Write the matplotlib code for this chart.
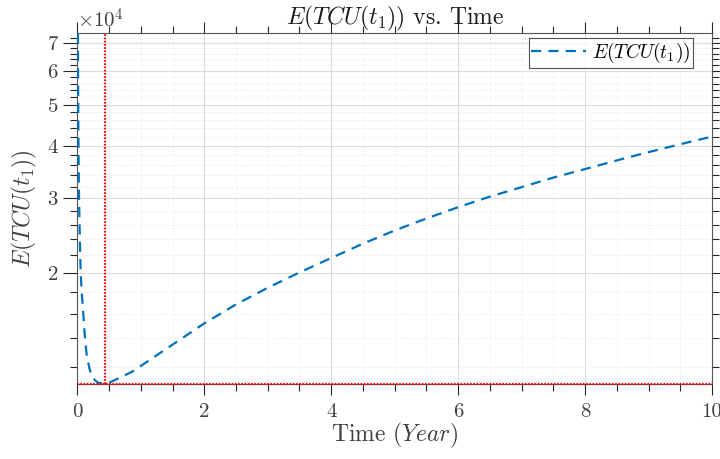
import matplotlib
matplotlib.use("Agg")
import matplotlib.pyplot as plt
from matplotlib.ticker import FixedLocator, FixedFormatter, MultipleLocator, NullFormatter

# ---- data ----
time_years = [0.005, 0.008, 0.012, 0.018, 0.027, 0.04, 0.053, 0.069, 0.094, 0.121,
              0.148, 0.19, 0.227, 0.28, 0.33, 0.38, 0.436, 0.5, 0.57, 0.72, 0.87,
              1.0, 1.145, 1.42, 1.71, 2.0, 2.5, 3.0, 3.5, 4.0, 4.5, 5.0, 5.5,
              6.0, 6.5, 7.0, 7.5, 8.0, 8.5, 9.0, 9.5, 10.0]
etcu_values = [1.2e5, 7.8e4, 5.6e4, 4.0e4, 3.0e4, 2.39e4, 2.0e4, 1.8e4, 1.6e4, 1.4e4,
               1.28e4, 1.19e4, 1.14e4, 1.115e4, 1.10e4, 1.097e4, 1.095e4, 1.10e4,
               1.113e4, 1.14e4, 1.17e4, 1.205e4, 1.247e4, 1.329e4, 1.421e4, 1.52e4,
               1.685e4, 1.845e4, 2.005e4, 2.17e4, 2.345e4, 2.52e4, 2.69e4,
               2.86e4, 3.03e4, 3.19e4, 3.36e4, 3.52e4, 3.69e4, 3.86e4, 4.03e4, 4.2e4]
t_opt = 0.437
etcu_min = 1.095e4
y_major = [2e4, 3e4, 4e4, 5e4, 6e4, 7e4]
y_major_labels = ["2", "3", "4", "5", "6", "7"]
y_minor = [1.2e4, 1.4e4, 1.6e4, 1.8e4, 2.2e4, 2.4e4, 2.6e4, 2.8e4, 3.2e4, 3.4e4,
           3.6e4, 3.8e4, 4.2e4, 4.4e4, 4.6e4, 4.8e4, 5.2e4, 5.4e4, 5.6e4, 5.8e4,
           6.2e4, 6.4e4, 6.6e4, 6.8e4, 7.2e4]
x_major = [0, 2, 4, 6, 8, 10]

plt.rcParams['font.family'] = ['cmr10', 'DejaVu Serif']
plt.rcParams['mathtext.fontset'] = 'cm'
plt.rcParams['axes.unicode_minus'] = False

txt = '#262626'
fig = plt.figure(figsize=(7.2, 4.59), dpi=100)
ax = fig.add_axes([0.1074, 0.1634, 0.8815, 0.7641])

ax.plot(time_years, etcu_values, color='#0072BD', lw=1.6, dashes=(4.6, 3.2),
        label=r'$E(TCU(t_1))$', zorder=3)
ax.axvline(t_opt, color='red', lw=1.6, dashes=(0.75, 0.7), zorder=4)
ax.axhline(etcu_min, color='red', lw=1.6, dashes=(0.75, 0.7), zorder=4, clip_on=False)

ax.set_yscale('log')
ax.set_xlim(0, 10)
ax.set_ylim(etcu_min * 0.998, 7.37e4)

ax.xaxis.set_major_locator(FixedLocator(x_major))
ax.xaxis.set_minor_locator(MultipleLocator(0.5))
ax.yaxis.set_major_locator(FixedLocator(y_major))
ax.yaxis.set_major_formatter(FixedFormatter(y_major_labels))
ax.yaxis.set_minor_locator(FixedLocator(y_minor))
ax.yaxis.set_minor_formatter(NullFormatter())

ax.grid(True, which='major', color='#dcdcdc', lw=0.8, ls='-')
ax.grid(True, which='minor', color='#e2e2e2', lw=0.6, ls=(0, (1, 2)))
ax.set_axisbelow(True)

for s in ax.spines.values():
    s.set_color('#555555')
    s.set_linewidth(0.8)

ax.tick_params(which='both', direction='out', top=True, right=True, colors=txt,
               labelsize=15, width=0.8)
ax.tick_params(axis='x', which='major', length=8, pad=6)
ax.tick_params(axis='x', which='minor', length=5)
ax.tick_params(axis='y', which='major', length=10, pad=4)
ax.tick_params(axis='y', which='minor', length=5)
for lab in ax.get_xticklabels() + ax.get_yticklabels():
    lab.set_color('#404040')

ax.set_title(r'$E(TCU(t_1))$ vs. Time', fontsize=17, color='#1a1a1a', pad=4)
ax.set_xlabel(r'Time $(Year)$', fontsize=17, color='#404040', labelpad=0)
ax.set_ylabel(r'$E(TCU(t_1))$', fontsize=17, color='#404040', labelpad=6)

ax.text(0.0, 1.003, r'$\times 10^4$', transform=ax.transAxes, fontsize=15,
        color='#404040', ha='left', va='bottom')

leg = ax.legend(loc='upper right', fontsize=14, frameon=True, fancybox=False,
                handlelength=2.8, borderpad=0.15, handletextpad=0.3,
                borderaxespad=0, bbox_to_anchor=(0.970, 0.986))
leg.get_frame().set_edgecolor('#262626')
leg.get_frame().set_linewidth(0.8)

fig.savefig('out.png', dpi=100)
